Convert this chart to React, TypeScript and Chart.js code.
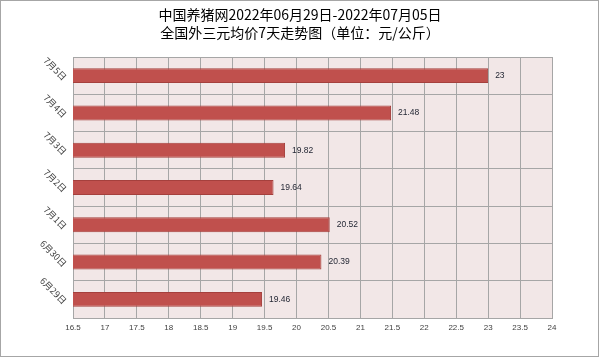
import React, { useEffect, useRef } from 'react';
import { Chart, registerables } from 'chart.js';

Chart.register(...registerables);

const categories = ['7月5日', '7月4日', '7月3日', '7月2日', '7月1日', '6月30日', '6月29日'];
const prices = [23, 21.48, 19.82, 19.64, 20.52, 20.39, 19.46];
const titleLines = ['中国养猪网2022年06月29日-2022年07月05日', '全国外三元均价7天走势图（单位：元/公斤）'];
const xMin = 16.5;
const xMax = 24;
const xStep = 0.5;

const GRID = '#A6A6A6';
const CJK = '"Noto Sans CJK SC", "Noto Sans", sans-serif';

const decorPlugin = {
  id: 'decor',
  beforeDraw(chart: any) {
    const { ctx, chartArea, width, height } = chart;
    ctx.save();
    ctx.fillStyle = '#FFFFFF';
    ctx.fillRect(0, 0, width, height);
    ctx.fillStyle = '#F2E7E7';
    ctx.fillRect(chartArea.left, chartArea.top, chartArea.right - chartArea.left, chartArea.bottom - chartArea.top);
    ctx.restore();
  },
  afterDraw(chart: any) {
    const { ctx, width, height } = chart;
    ctx.save();
    ctx.fillStyle = '#000000';
    ctx.textAlign = 'center';
    ctx.textBaseline = 'middle';
    ctx.font = `14px ${CJK}`;
    ctx.fillText(titleLines[0], width / 2, 15);
    ctx.fillText(titleLines[1], width / 2, 33);
    ctx.strokeStyle = '#A6A6A6';
    ctx.lineWidth = 1;
    ctx.strokeRect(0.5, 0.5, width - 2, height - 1);
    ctx.restore();
  },
};

const valueLabelPlugin = {
  id: 'valueLabels',
  afterDatasetsDraw(chart: any) {
    const { ctx } = chart;
    const meta = chart.getDatasetMeta(0);
    ctx.save();
    ctx.fillStyle = '#1F2330';
    ctx.font = '8.5px "Liberation Sans", sans-serif';
    ctx.textAlign = 'left';
    ctx.textBaseline = 'middle';
    meta.data.forEach((bar: any, i: number) => {
      ctx.fillText(String(prices[i]), bar.x + 7, bar.y);
    });
    ctx.restore();
  },
};

export default function App() {
  const canvasRef = useRef<HTMLCanvasElement | null>(null);

  useEffect(() => {
    const canvas = canvasRef.current;
    if (!canvas) return;
    const chart = new Chart(canvas, {
      type: 'bar',
      data: {
        labels: categories,
        datasets: [
          {
            data: prices,
            backgroundColor: '#C0504D',
            borderColor: '#A5403D',
            borderWidth: 1,
            barPercentage: 0.4,
            categoryPercentage: 1,
          },
        ],
      },
      options: {
        indexAxis: 'y',
        responsive: false,
        animation: false,
        layout: { padding: { top: 57, right: 48, bottom: 0, left: 0 } },
        plugins: {
          legend: { display: false },
          tooltip: { enabled: false },
          title: { display: false },
        },
        scales: {
          x: {
            type: 'linear',
            min: xMin,
            max: xMax,
            ticks: {
              stepSize: xStep,
              color: '#404040',
              font: { size: 8, family: '"Liberation Sans", sans-serif' },
              padding: 5,
              callback: (v: any) => String(Math.round(Number(v) * 10) / 10),
            },
            grid: { color: GRID, lineWidth: 1, drawTicks: false },
            border: { color: GRID, width: 1 },
            afterFit: (scale: any) => {
              scale.height = 39;
            },
          },
          y: {
            type: 'category',
            ticks: {
              color: '#404040',
              font: { size: 9, family: CJK },
              minRotation: -45,
              padding: 8,
              labelOffset: 3,
              autoSkip: false,
            },
            grid: { color: GRID, lineWidth: 1, drawTicks: false, offset: true },
            border: { color: GRID, width: 1 },
            afterFit: (scale: any) => {
              scale.width = 73;
            },
          },
        },
      },
      plugins: [decorPlugin, valueLabelPlugin],
    });
    return () => chart.destroy();
  }, []);

  return (
    <div style={{ position: 'fixed', left: 0, top: 0, width: 600, height: 357, background: '#fff' }}>
      <canvas ref={canvasRef} width={600} height={357} style={{ display: 'block', width: 600, height: 357 }} />
    </div>
  );
}
